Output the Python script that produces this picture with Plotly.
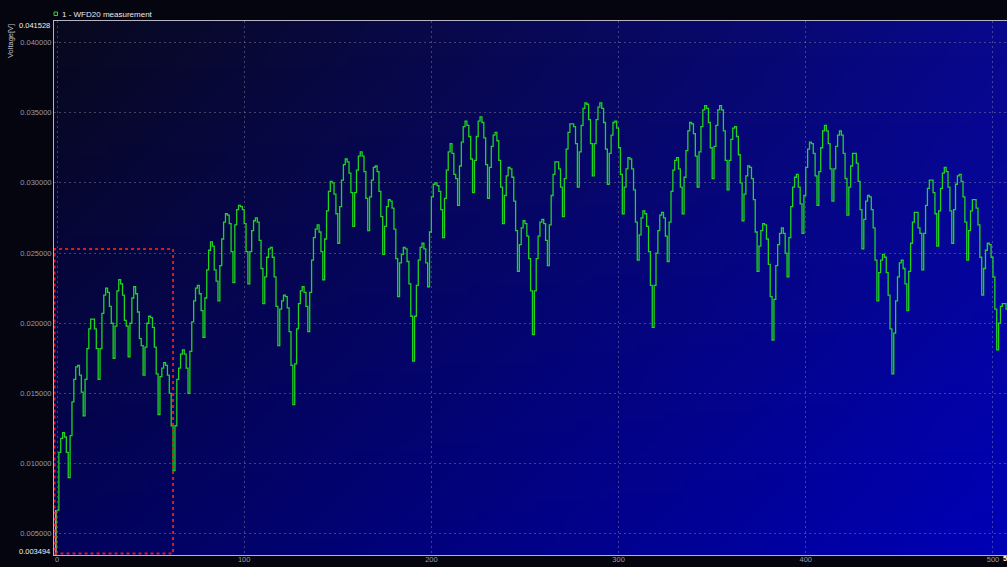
import base64
import struct
import zlib
import plotly.graph_objects as go

# ---- data (mV), one list per envelope arc, 8 samples per sub-bump ----
arc1 = [6.7, 10.8, 11.8, 12.2, 11.9, 10.8, 9.0, 12.0,
        14.4, 16.0, 16.9, 17.0, 16.3, 15.1, 13.4, 16.0,
        18.2, 19.6, 20.3, 20.3, 19.6, 18.2, 16.0, 18.2,
        20.7, 22.0, 22.5, 22.2, 21.2, 20.0, 17.5, 19.8,
        22.3, 23.1, 22.8, 22.0, 20.2, 19.8, 17.6, 20.0,
        21.8, 22.6, 22.1, 20.8, 18.9, 18.4, 16.3, 18.3,
        20.0, 20.5, 20.4, 19.7, 18.3, 16.4, 13.5, 16.2,
        16.8, 17.2, 17.0, 16.3, 15.0, 12.7, 9.5, 12.7]
arc2 = [16.0, 16.8, 17.8, 18.1, 17.8, 16.8, 15.0, 18.0,
        20.1, 21.6, 22.5, 22.7, 22.1, 20.9, 19.0, 21.8,
        23.8, 25.2, 25.8, 25.5, 23.8, 23.0, 21.6, 24.1,
        26.0, 27.2, 27.8, 27.7, 27.1, 25.1, 22.9, 27.0,
        28.1, 28.4, 28.3, 28.1, 27.1, 25.1, 22.8, 25.1,
        26.6, 27.3, 27.5, 27.2, 25.9, 23.9, 21.4, 23.3,
        24.7, 25.3, 25.4, 24.7, 23.3, 21.2, 18.4, 21.0,
        21.6, 22.0, 21.9, 21.1, 19.4, 17.0, 14.2, 17.1]
arc3 = [19.6, 21.4, 22.3, 22.6, 22.2, 21.2, 19.4, 22.2,
        24.5, 26.1, 26.7, 27.0, 26.5, 25.1, 23.1, 26.0,
        28.0, 29.4, 30.1, 30.0, 29.2, 27.8, 25.7, 28.3,
        30.2, 31.3, 31.7, 31.5, 30.7, 29.3, 26.9, 29.3,
        30.9, 31.9, 32.2, 31.9, 30.8, 28.9, 26.6, 29.0,
        30.2, 31.1, 31.2, 30.8, 29.4, 27.6, 24.9, 26.9,
        28.3, 28.8, 28.7, 28.2, 26.7, 24.6, 21.9, 24.3,
        24.9, 25.4, 25.3, 24.4, 22.8, 20.5, 17.3, 20.5]
arc4 = [22.7, 24.5, 25.4, 25.7, 25.3, 24.3, 22.6, 26.5,
        29.0, 29.9, 30.0, 29.8, 29.4, 28.1, 26.1, 28.9,
        30.9, 32.2, 32.8, 32.1, 30.6, 30.3, 28.4, 31.2,
        32.9, 34.0, 34.4, 34.1, 33.3, 31.7, 29.3, 31.6,
        33.3, 34.4, 34.7, 34.3, 33.2, 31.3, 28.9, 31.1,
        32.6, 33.4, 33.6, 33.0, 31.6, 29.7, 27.1, 29.1,
        30.5, 31.1, 31.0, 30.4, 28.7, 26.6, 23.7, 25.6,
        26.8, 27.3, 27.1, 26.2, 24.6, 22.3, 19.2, 22.3]
arc5 = [24.6, 26.2, 27.2, 27.4, 27.1, 25.9, 24.1, 27.0,
        29.1, 30.6, 31.5, 31.5, 31.0, 29.7, 27.6, 30.3,
        32.4, 33.6, 34.2, 34.2, 34.0, 32.8, 29.7, 32.2,
        34.1, 35.3, 35.7, 35.6, 34.5, 32.8, 30.5, 32.8,
        34.5, 35.4, 35.7, 35.3, 34.3, 32.4, 29.9, 32.1,
        33.4, 34.3, 34.4, 33.9, 32.5, 30.6, 27.8, 29.7,
        31.0, 31.8, 31.7, 31.0, 29.5, 27.2, 24.5, 26.3,
        27.5, 28.0, 27.8, 26.9, 25.1, 22.7, 19.7, 22.7]
arc6 = [25.0, 26.6, 27.7, 27.9, 27.5, 26.2, 24.4, 27.2,
        29.4, 30.9, 31.6, 31.8, 31.0, 29.7, 27.8, 30.4,
        32.3, 33.7, 34.3, 34.2, 33.5, 31.9, 29.7, 32.2,
        34.0, 35.2, 35.5, 35.3, 34.3, 32.5, 30.3, 32.6,
        34.1, 35.2, 35.5, 35.2, 33.7, 31.6, 29.5, 31.6,
        33.1, 33.9, 34.0, 33.3, 32.0, 30.0, 27.3, 29.2,
        30.5, 31.2, 31.1, 30.3, 28.8, 26.5, 23.7, 25.5,
        26.6, 27.1, 27.0, 26.0, 24.2, 21.9, 18.8, 21.7]
arc7 = [24.1, 25.6, 26.4, 26.8, 26.4, 25.0, 23.3, 26.1,
        28.3, 29.7, 30.4, 30.6, 29.7, 28.5, 26.4, 29.1,
        31.1, 32.4, 32.9, 32.8, 32.1, 30.5, 28.4, 30.8,
        32.5, 33.7, 34.1, 33.7, 32.8, 31.0, 28.7, 31.0,
        32.6, 33.4, 33.7, 33.4, 32.1, 30.3, 27.7, 29.7,
        31.2, 32.1, 32.1, 31.4, 30.1, 28.1, 25.3, 27.4,
        28.7, 29.1, 29.0, 28.1, 26.8, 24.5, 21.6, 23.6,
        24.5, 24.9, 24.7, 23.6, 22.0, 19.6, 16.4, 19.3]
arc8 = [21.6, 23.3, 24.3, 24.5, 23.9, 22.8, 20.9, 23.7,
        25.7, 27.2, 27.9, 27.9, 26.8, 26.4, 23.8, 26.4,
        28.4, 29.6, 30.2, 30.2, 29.3, 27.8, 25.5, 28.0,
        29.6, 30.7, 31.1, 30.8, 29.7, 28.0, 25.7, 28.1,
        29.9, 30.5, 30.6, 30.1, 29.0, 27.2, 24.5, 26.6,
        28.0, 28.8, 28.8, 28.2, 27.0, 24.7, 22.0, 23.9,
        25.2, 25.7, 25.6, 24.7, 23.3, 21.0, 18.1, 20.0,
        21.2, 21.4, 21.4, 21.0, 21.0]

x_ticks = [0, 100, 200, 300, 400, 500]
y_ticks = [0.005, 0.010, 0.015, 0.020, 0.025, 0.030, 0.035, 0.040]
y_tick_labels = ["0.005000", "0.010000", "0.015000", "0.020000",
                 "0.025000", "0.030000", "0.035000", "0.040000"]
y_min, y_max = 0.003494, 0.041528
trace_name = "1 - WFD20 measurement"

values_mv = arc1 + arc2 + arc3 + arc4 + arc5 + arc6 + arc7 + arc8
samples = list(range(len(values_mv)))
volts = [v / 1000.0 for v in values_mv]

# ---- background gradient image (styling only) ----
def gradient_png(w, h, tl, tr, bl, br):
    rows = bytearray()
    for j in range(h):
        fy = j / (h - 1)
        rows.append(0)
        for i in range(w):
            fx = i / (w - 1)
            for c in range(3):
                top = tl[c] * (1 - fx) + tr[c] * fx
                bot = bl[c] * (1 - fx) + br[c] * fx
                rows.append(int(round(top * (1 - fy) + bot * fy)))

    def chunk(tag, data):
        return (struct.pack(">I", len(data)) + tag + data +
                struct.pack(">I", zlib.crc32(tag + data) & 0xFFFFFFFF))

    png = (b"\x89PNG\r\n\x1a\n" +
           chunk(b"IHDR", struct.pack(">IIBBBBB", w, h, 8, 2, 0, 0, 0)) +
           chunk(b"IDAT", zlib.compress(bytes(rows))) +
           chunk(b"IEND", b""))
    return "data:image/png;base64," + base64.b64encode(png).decode()

bg_src = gradient_png(96, 54, (8, 8, 30), (8, 8, 140), (2, 2, 90), (0, 0, 182))

# pixel helpers for paper coordinates (plot area: x 54..1007, y 21..555)
PL, PR, PT, PB = 54, 1007, 21, 555
def px(x):
    return (x - PL) / (PR - PL)
def py(y):
    return (PB - y) / (PB - PT)

fig = go.Figure()
fig.add_trace(go.Scatter(
    x=samples, y=volts, mode="lines",
    line=dict(color="#1fd41f", width=1.3, shape="hv"),
    hoverinfo="skip", showlegend=False,
))

grid = dict(showgrid=True, gridcolor="rgba(150,150,175,0.42)", griddash="2px,3px",
            gridwidth=1, zeroline=False, showline=True, linecolor="#b4b4c4",
            linewidth=1, mirror=True, ticks="")

fig.update_layout(
    width=1007, height=567,
    margin=dict(l=PL, r=1007 - PR, t=PT, b=567 - PB, pad=0),
    paper_bgcolor="#05050f",
    plot_bgcolor="rgba(0,0,0,0)",
    font=dict(family="Liberation Sans, Arial, sans-serif", size=8, color="#9a9aaa"),
    xaxis=dict(range=[-1.6, 507.5], tickvals=x_ticks, ticklabelstandoff=-3,
               tickfont=dict(size=7.5, color="#9a9aaa"), **grid),
    yaxis=dict(range=[y_min, y_max], tickvals=y_ticks, ticktext=y_tick_labels,
               tickfont=dict(size=7.5, color="#9a9aaa"), **grid),
    images=[dict(source=bg_src, xref="paper", yref="paper", x=0, y=1,
                 sizex=1, sizey=1, xanchor="left", yanchor="top",
                 sizing="stretch", layer="below")],
    shapes=[
        dict(type="line", xref="x", yref="y", x0=-0.6, x1=-0.6,
             y0=y_min, y1=volts[0], line=dict(color="#b8d830", width=1.5)),
        dict(type="rect", xref="x", yref="y", x0=-1.3, x1=62,
             y0=0.0036, y1=0.02529, line=dict(color="#e01818", width=2, dash="dot")),
        dict(type="rect", xref="paper", yref="paper", x0=px(54), x1=px(57.5),
             y0=py(15.5), y1=py(12), line=dict(color="#22dd22", width=1)),
    ],
    annotations=[
        dict(text=trace_name, xref="paper", yref="paper", x=px(60), y=py(14),
             xanchor="left", yanchor="middle", showarrow=False,
             font=dict(size=8, color="#e8e8ee")),
        dict(text="Voltage[V]", xref="paper", yref="paper", x=px(10), y=py(22),
             xanchor="center", yanchor="top", textangle=-90, showarrow=False,
             font=dict(size=7.5, color="#c0c0cc")),
        dict(text="0.041528", xref="paper", yref="paper", x=px(52), y=py(25),
             xanchor="right", yanchor="middle", showarrow=False,
             font=dict(size=7.5, color="#f0f0f0")),
        dict(text="0.003494", xref="paper", yref="paper", x=px(52), y=py(551),
             xanchor="right", yanchor="middle", showarrow=False,
             font=dict(size=7.5, color="#f0f0f0")),
        dict(text="<b>512</b>", xref="paper", yref="paper", x=px(1009), y=py(558.5),
             xanchor="center", yanchor="middle", showarrow=False,
             font=dict(size=7.5, color="#ffffff")),
        dict(text="Samples", xref="paper", yref="paper", x=px(998), y=py(562.5),
             xanchor="center", yanchor="top", showarrow=False,
             font=dict(size=7.5, color="#e0e0e0")),
    ],
)

fig.write_html("out.html")
